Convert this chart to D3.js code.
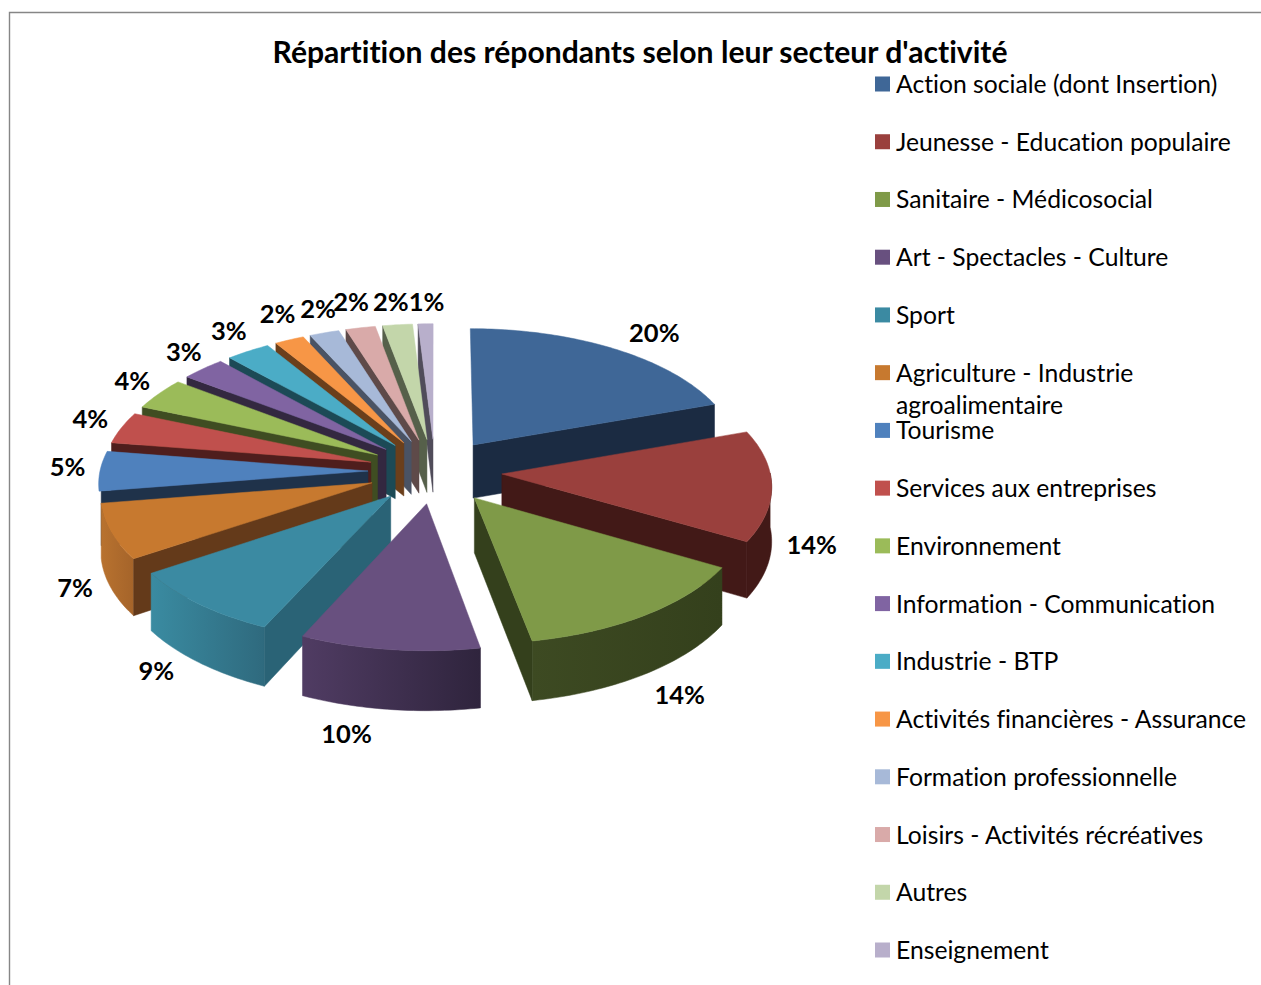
<!DOCTYPE html>
<html lang="fr">
<head>
<meta charset="utf-8">
<title>Répartition des répondants</title>
<script src="https://cdn.jsdelivr.net/npm/d3@7/dist/d3.min.js"></script>
<style>
  html, body { margin: 0; padding: 0; background: #fff; overflow: hidden; }
  svg { display: block; }
  text { font-family: Lato, "Noto Sans", sans-serif; fill: #000; font-variant-ligatures: none; }
</style>
</head>
<body>
<svg id="chart" width="1261" height="985"></svg>
<script>
const chartTitle = "Répartition des répondants selon leur secteur d'activité";

const sectors = [
  "Action sociale (dont Insertion)", "Jeunesse - Education populaire",
  "Sanitaire - Médicosocial", "Art - Spectacles - Culture", "Sport",
  "Agriculture - Industrie\nagroalimentaire", "Tourisme", "Services aux entreprises",
  "Environnement", "Information - Communication", "Industrie - BTP",
  "Activités financières - Assurance", "Formation professionnelle",
  "Loisirs - Activités récréatives", "Autres", "Enseignement"
];
const shares = [20, 14, 14, 10, 9, 7, 5, 4, 4, 3, 3, 2, 2, 2, 2, 1];

const topColors = ["#3F6797", "#9A403D", "#7F9A48", "#68507F", "#3B8AA2", "#C7792F", "#4F81BD", "#C0504D",
                   "#9BBB59", "#8064A2", "#4BACC6", "#F79646", "#A7B9D8", "#D9AAA9", "#C3D6AA", "#B8AFCB"];
const wallColors = ["#1B2B42", "#421917", "#34401C", "#322640", "#2A6376", "#643A1A", "#1F324A", "#4F1E1D",
                    "#3F4D22", "#332840", "#1C4A56", "#6B3F1B", "#4A5364", "#5E4A49", "#56604A", "#504C5A"];
const rimLightColors = ["#1B2B42", "#421917", "#3D4A22", "#503C63", "#3A8BA1", "#B8722F", "#1F324A", "#4F1E1D",
                        "#3F4D22", "#332840", "#1C4A56", "#6B3F1B", "#4A5364", "#5E4A49", "#56604A", "#504C5A"];
const rimDarkColors = ["#1B2B42", "#421917", "#34401C", "#2F243D", "#2F6A7E", "#A5642A", "#1F324A", "#4F1E1D",
                       "#3F4D22", "#332840", "#1C4A56", "#6B3F1B", "#4A5364", "#5E4A49", "#56604A", "#504C5A"];

// Disc projection: the pie lies on a plane seen from the front, with mild perspective.
const view = { cx: 435, cy: 471, radius: 268, tilt: 129.6, persp: 0.08, explode: 0.25, depth: 54 };

function project(u, v) {
  const s = 1 / (1 + view.persp * v);
  return { x: view.cx + view.radius * u * s, y: view.cy - view.tilt * v * s, s };
}

const svg = d3.select("#chart");
const defs = svg.append("defs");

// Chart frame: only the top and left edges show in the window
svg.append("path")
  .attr("d", "M9.5,985V12.5H1261")
  .attr("fill", "none").attr("stroke", "#868686").attr("stroke-width", 1.4);

svg.append("text")
  .attr("x", 640).attr("y", 63)
  .attr("text-anchor", "middle")
  .attr("font-size", 30.1).attr("font-weight", 700)
  .text(chartTitle);

const arcs = d3.pie().sort(null).startAngle(0).endAngle(2 * Math.PI)(shares);
const line = d3.line().x(p => p.x).y(p => p.y);
const closed = pts => line(pts) + "Z";

function sliceGeometry(d, i) {
  const mid = (d.startAngle + d.endAngle) / 2;
  const ou = view.explode * Math.sin(mid), ov = view.explode * Math.cos(mid);
  const at = a => project(ou + Math.sin(a), ov + Math.cos(a));
  const angles = d3.range(d.startAngle, d.endAngle, Math.PI / 180).concat(d.endAngle);
  return { d, i, mid, ou, ov, at, angles, apex: project(ou, ov) };
}
const drop = p => ({ x: p.x, y: p.y + view.depth * p.s });

const geometry = arcs.map(sliceGeometry);
const slices = geometry.slice().sort((a, b) => Math.cos(b.mid) - Math.cos(a.mid));

// A start wall lying near the pie's left extreme stops where the previous slice's rim ends,
// so it cannot stick out past that slice
function startWallEnd(sl) {
  const rimPt = sl.at(sl.d.startAngle);
  const prev = geometry[sl.i - 1];
  if (!prev || Math.cos(sl.d.startAngle) < -0.2) return rimPt;
  const limit = prev.at(prev.d.endAngle).x;
  if (rimPt.x >= limit) return rimPt;
  const t = (limit - sl.apex.x) / (rimPt.x - sl.apex.x);
  return {
    x: limit,
    y: sl.apex.y + t * (rimPt.y - sl.apex.y),
    s: sl.apex.s + t * (rimPt.s - sl.apex.s)
  };
}

const pieGroup = svg.append("g");
slices.forEach(sl => {
  const g = pieGroup.append("g");
  const paint = (sel, fill) => sel.attr("fill", fill).attr("stroke", fill).attr("stroke-width", 0.5);

  // Outer rim on the part of the arc turned towards the viewer; slivers stay hidden by the neighbour
  const front = sl.angles.filter(a => Math.cos(a) < 0.02);
  if (front.length > 12) {
    const gradId = "rim-" + sl.i;
    const grad = defs.append("linearGradient").attr("id", gradId);
    grad.append("stop").attr("offset", 0).attr("stop-color", rimLightColors[sl.i]);
    grad.append("stop").attr("offset", 1).attr("stop-color", rimDarkColors[sl.i]);
    const upper = front.map(sl.at);
    const lower = upper.map(drop).reverse();
    paint(g.append("path").attr("d", closed(upper.concat(lower))), `url(#${gradId})`);
  }

  // Radial walls: the start edge shows on the left half, the end edge on the right half
  const wallEnds = [];
  if (Math.sin(sl.d.startAngle) < 0) wallEnds.push(startWallEnd(sl));
  if (Math.sin(sl.d.endAngle) > 0) wallEnds.push(sl.at(sl.d.endAngle));
  wallEnds.forEach(rimPt => {
    paint(g.append("path").attr("d", closed([sl.apex, rimPt, drop(rimPt), drop(sl.apex)])), wallColors[sl.i]);
  });

  // Top face
  paint(g.append("path").attr("d", closed([sl.apex].concat(sl.angles.map(sl.at)))), topColors[sl.i]);
});

// Percentage labels sit just outside the rim, with a small per-label shift
const labelShift = [[22,-4],[2,56],[8,61],[-37,61],[-14,50],[2,48],[5,-5],[3,-5],
                    [3,-6],[5,-7],[0,-9],[3,-13],[5,-11],[-2,-12],[-3,-9],[2,-8]];
const labelAnchor = d => {
  const mid = (d.startAngle + d.endAngle) / 2;
  const reach = view.explode + 1.14;
  return project(reach * Math.sin(mid), reach * Math.cos(mid));
};
svg.append("g").selectAll("text").data(arcs).join("text")
  .attr("x", (d, i) => labelAnchor(d).x + labelShift[i][0])
  .attr("y", (d, i) => labelAnchor(d).y + labelShift[i][1])
  .attr("text-anchor", "middle").attr("dominant-baseline", "central")
  .attr("font-size", 25.5).attr("font-weight", 700)
  .text(d => d.data + "%");

// Legend
const rowY = d3.scaleLinear().domain([0, sectors.length - 1]).range([84, 950]);
const legend = svg.append("g").selectAll("g").data(sectors).join("g")
  .attr("transform", (d, i) => `translate(875,${rowY(i)})`);
legend.append("rect")
  .attr("x", 0).attr("y", -7.5).attr("width", 15).attr("height", 15)
  .attr("fill", (d, i) => topColors[i]);
legend.each(function (name) {
  name.split("\n").forEach((part, k) => {
    d3.select(this).append("text")
      .attr("x", 21).attr("y", k * 32 - 0.5)
      .attr("dominant-baseline", "central")
      .attr("font-size", 24.7)
      .text(part);
  });
});
</script>
</body>
</html>
